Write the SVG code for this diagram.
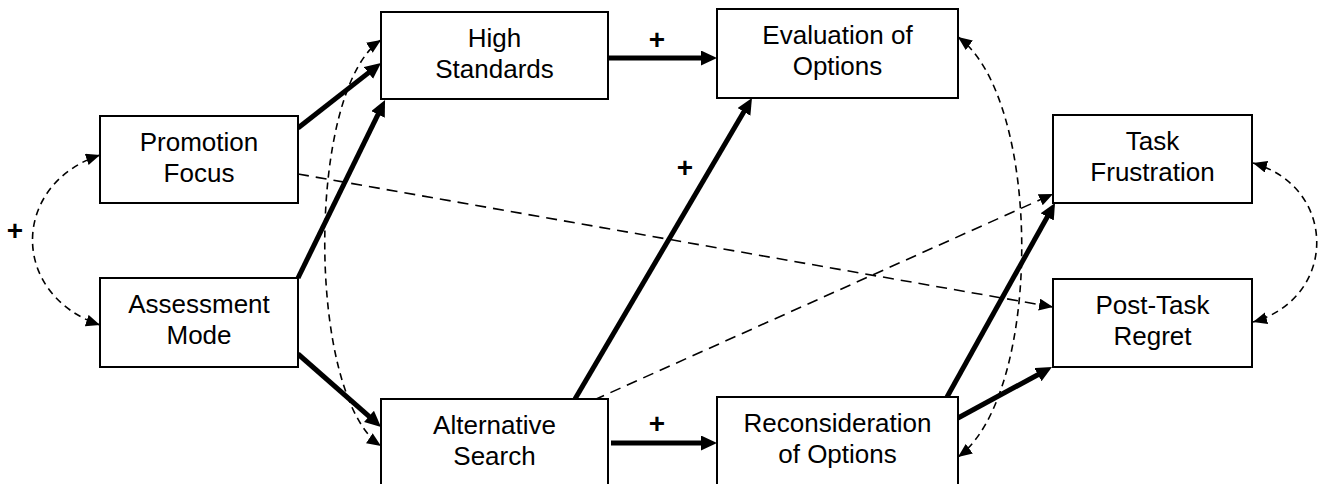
<svg xmlns="http://www.w3.org/2000/svg" width="1323" height="484" viewBox="0 0 1323 484">
<style>
.box{fill:#fff;stroke:#000;stroke-width:2}
.lbl{font-family:"Liberation Sans",Arial,sans-serif;font-size:26px;fill:#000;text-anchor:middle}
.plus{font-family:"Liberation Sans",Arial,sans-serif;font-size:28px;font-weight:bold;fill:#000;text-anchor:middle}
.thick{fill:none;stroke:#000;stroke-width:5}
.dash{fill:none;stroke:#000;stroke-width:1.6;stroke-dasharray:11,7}
.cdash{fill:none;stroke:#000;stroke-width:1.6;stroke-dasharray:7,5}
</style>
<defs>
<marker id="ah" markerUnits="userSpaceOnUse" markerWidth="17" markerHeight="16" refX="2" refY="7.5" orient="auto">
<path d="M0,0 L16,7.5 L0,15 z" fill="#000"/>
</marker>
<marker id="dh" markerUnits="userSpaceOnUse" markerWidth="15" markerHeight="13" refX="14" refY="6" orient="auto-start-reverse">
<path d="M0,0 L14,6 L0,12 z" fill="#000"/>
</marker>
</defs>
<rect width="1323" height="484" fill="#fff"/>
<g id="connectors">
<path class="thick" d="M298,128 L370,71.6" marker-end="url(#ah)"/>
<path class="thick" d="M298,278 L378.9,112.6" marker-end="url(#ah)"/>
<path class="thick" d="M298,354 L370.5,417.7" marker-end="url(#ah)"/>
<path class="thick" d="M608,58 L703,58" marker-end="url(#ah)"/>
<path class="thick" d="M611,443 L703,443" marker-end="url(#ah)"/>
<path class="thick" d="M575,399 L744.9,110.1" marker-end="url(#ah)"/>
<path class="thick" d="M947,397 L1048.2,215.2" marker-end="url(#ah)"/>
<path class="thick" d="M958,418 L1039.7,373.7" marker-end="url(#ah)"/>
<path class="dash" d="M298,174 L1053,307" marker-end="url(#dh)"/>
<path class="dash" d="M594,400 L1053,194" marker-end="url(#dh)"/>
<path class="cdash" d="M100,155 C10,185 10,295 100,325" marker-start="url(#dh)" marker-end="url(#dh)"/>
<path class="cdash" d="M381,40 C306,90 306,396 381,446" marker-start="url(#dh)" marker-end="url(#dh)"/>
<path class="cdash" d="M958,37 C1043,99 1043,395 958,457" marker-start="url(#dh)" marker-end="url(#dh)"/>
<path class="cdash" d="M1253,163 C1338,187 1338,298 1253,322" marker-start="url(#dh)" marker-end="url(#dh)"/>
<text class="plus" x="15" y="240">+</text>
<text class="plus" x="657" y="49">+</text>
<text class="plus" x="685" y="177">+</text>
<text class="plus" x="657" y="433">+</text>
</g>
<g id="promotion-focus">
<rect class="box" x="100" y="116" width="198" height="87"/>
<text class="lbl" x="199" y="151">Promotion</text>
<text class="lbl" x="199" y="182">Focus</text>
</g>
<g id="assessment-mode">
<rect class="box" x="100" y="278" width="198" height="89"/>
<text class="lbl" x="199" y="313">Assessment</text>
<text class="lbl" x="199" y="344">Mode</text>
</g>
<g id="high-standards">
<rect class="box" x="381" y="12" width="227" height="87"/>
<text class="lbl" x="494.5" y="47">High</text>
<text class="lbl" x="494.5" y="78">Standards</text>
</g>
<g id="evaluation-of-options">
<rect class="box" x="717" y="9" width="241" height="89"/>
<text class="lbl" x="837.5" y="44">Evaluation of</text>
<text class="lbl" x="837.5" y="75">Options</text>
</g>
<g id="task-frustration">
<rect class="box" x="1053" y="115" width="199" height="88"/>
<text class="lbl" x="1152.5" y="150">Task</text>
<text class="lbl" x="1152.5" y="181">Frustration</text>
</g>
<g id="post-task-regret">
<rect class="box" x="1053" y="279" width="199" height="88"/>
<text class="lbl" x="1152.5" y="314">Post-Task</text>
<text class="lbl" x="1152.5" y="345">Regret</text>
</g>
<g id="alternative-search">
<rect class="box" x="381" y="399" width="227" height="89"/>
<text class="lbl" x="494.5" y="434">Alternative</text>
<text class="lbl" x="494.5" y="465">Search</text>
</g>
<g id="reconsideration-of-options">
<rect class="box" x="717" y="397" width="241" height="91"/>
<text class="lbl" x="837.5" y="432">Reconsideration</text>
<text class="lbl" x="837.5" y="463">of Options</text>
</g>
</svg>
